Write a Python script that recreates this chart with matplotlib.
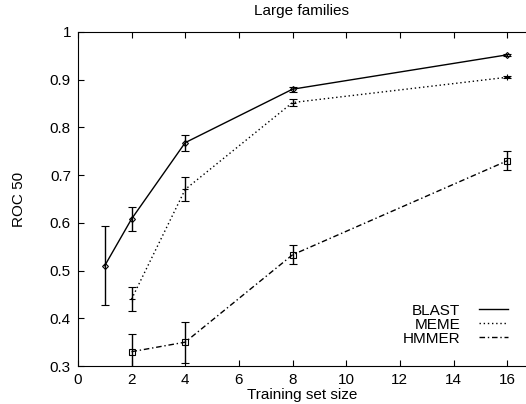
import matplotlib
matplotlib.use("Agg")
import matplotlib.pyplot as plt
from matplotlib.lines import Line2D

plt.rcParams['font.family'] = ['Liberation Sans', 'DejaVu Sans']

# data
blast_x = [1, 2, 4, 8, 16]
blast_y = [0.510, 0.608, 0.768, 0.880, 0.952]
blast_err = [0.083, 0.025, 0.017, 0.005, 0.002]

meme_x = [2, 4, 8, 16]
meme_y = [0.440, 0.670, 0.852, 0.905]
meme_err = [0.025, 0.025, 0.008, 0.002]

hmmer_x = [2, 4, 8, 16]
hmmer_y = [0.330, 0.350, 0.533, 0.730]
hmmer_err = [0.038, 0.043, 0.020, 0.020]

names = ['BLAST', 'MEME', 'HMMER']
styles = ['-', (0, (1, 2)), (0, (4, 2, 1, 2))]

fig = plt.figure(figsize=(5.26, 4.04), dpi=100)
ax = fig.add_axes([0.148, 0.094, 0.852, 0.827])

ax.errorbar(blast_x, blast_y, yerr=blast_err, color='black', lw=1.0,
            ls=styles[0], marker='D', ms=3, mfc='none', mew=0.8,
            capsize=3, elinewidth=1.0)
ax.errorbar(meme_x, meme_y, yerr=meme_err, color='black', lw=1.0,
            ls=styles[1], marker='+', ms=4, mew=0.8,
            capsize=3, elinewidth=1.0)
ax.errorbar(hmmer_x, hmmer_y, yerr=hmmer_err, color='black', lw=1.0,
            ls=styles[2], marker='s', ms=5, mfc='none', mew=0.8,
            capsize=3, elinewidth=1.0)

ax.set_xlim(0, 16.7)
ax.set_ylim(0.3, 1.0)
ax.set_xticks(range(0, 17, 2))
ax.set_yticks([0.3, 0.4, 0.5, 0.6, 0.7, 0.8, 0.9, 1.0])
ax.set_yticklabels(['0.3', '0.4', '0.5', '0.6', '0.7', '0.8', '0.9', '1'])
ax.tick_params(direction='in', top=True, right=False, labelsize=11, length=4, pad=5)
ax.spines['right'].set_visible(False)

ax.set_title('Large families', fontsize=11, pad=12)
ax.set_xlabel('Training set size', fontsize=11, labelpad=1)
ax.set_ylabel('ROC 50', fontsize=11, labelpad=17)

handles = [Line2D([], [], color='black', lw=1.0, ls=s) for s in styles]
leg = ax.legend(handles, names, loc='lower right', frameon=False, fontsize=11,
                markerfirst=False, handlelength=1.9, handletextpad=1.2,
                labelspacing=0.0, bbox_to_anchor=(0.99, 0.02))

fig.savefig('out.png', dpi=100)
